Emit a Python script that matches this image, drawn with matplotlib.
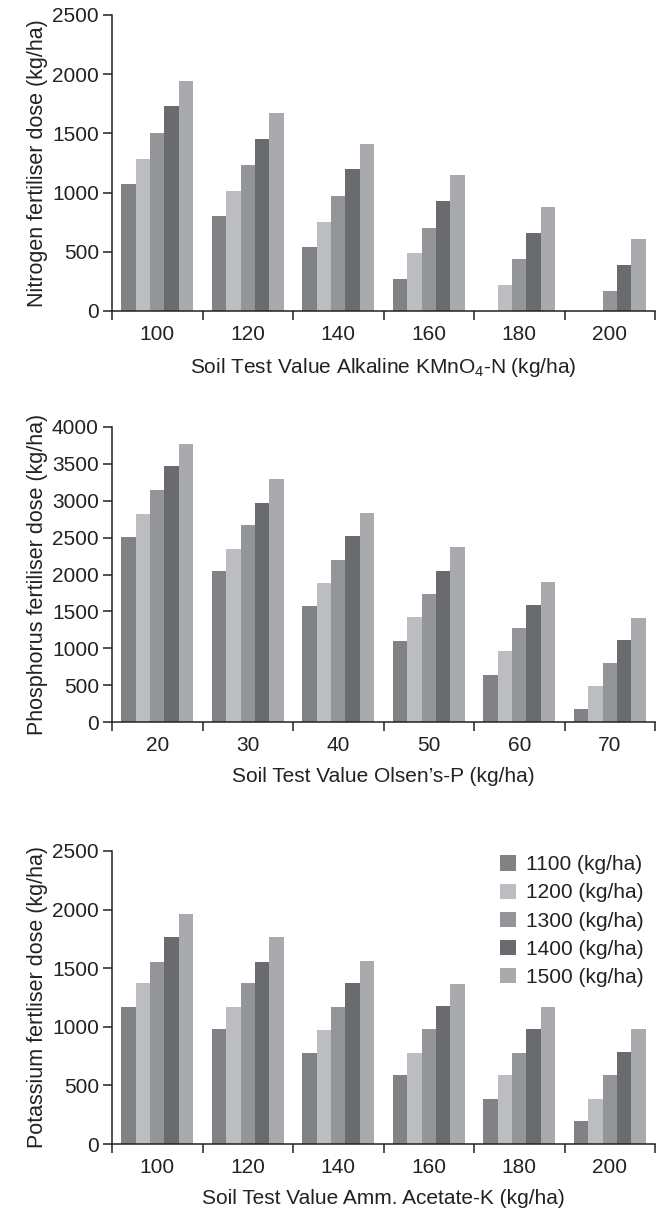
import matplotlib
matplotlib.use("Agg")
import matplotlib.pyplot as plt
import numpy as np

plt.rcParams['font.family'] = ['Liberation Sans', 'DejaVu Sans']
plt.rcParams['mathtext.fontset'] = 'custom'
plt.rcParams['mathtext.rm'] = 'Liberation Sans'
plt.rcParams['mathtext.it'] = 'Liberation Sans'

series_labels = ["1100 (kg/ha)", "1200 (kg/ha)", "1300 (kg/ha)", "1400 (kg/ha)", "1500 (kg/ha)"]
colors = ["#818286", "#bcbdc1", "#949599", "#6a6b6f", "#a9aaae"]

n_cats = ["100", "120", "140", "160", "180", "200"]
n_vals = [
    [1070, 800, 540, 270, 0, 0],
    [1280, 1010, 750, 490, 220, 0],
    [1500, 1230, 970, 700, 440, 170],
    [1730, 1450, 1200, 930, 660, 390],
    [1940, 1670, 1410, 1150, 880, 610],
]

p_cats = ["20", "30", "40", "50", "60", "70"]
p_vals = [
    [2510, 2050, 1575, 1100, 635, 170],
    [2825, 2350, 1890, 1425, 960, 485],
    [3150, 2675, 2200, 1740, 1275, 800],
    [3465, 2975, 2525, 2050, 1590, 1110],
    [3765, 3300, 2840, 2375, 1900, 1410],
]

k_cats = ["100", "120", "140", "160", "180", "200"]
k_vals = [
    [1165, 980, 775, 590, 385, 195],
    [1375, 1165, 970, 775, 590, 385],
    [1555, 1375, 1165, 980, 775, 590],
    [1765, 1555, 1375, 1175, 980, 785],
    [1960, 1765, 1560, 1365, 1165, 980],
]

W, H = 662, 1216
L, R = 112, 655

panels = [
    dict(cats=n_cats, vals=n_vals, ymax=2500, yticks=np.arange(0, 2501, 500),
         ylabel="Nitrogen fertiliser dose (kg/ha)",
         xlabel="Soil Test Value Alkaline KMnO$_4$-N (kg/ha)",
         top=15, bottom=311),
    dict(cats=p_cats, vals=p_vals, ymax=4000, yticks=np.arange(0, 4001, 500),
         ylabel="Phosphorus fertiliser dose (kg/ha)",
         xlabel="Soil Test Value Olsen\u2019s-P (kg/ha)",
         top=427, bottom=722),
    dict(cats=k_cats, vals=k_vals, ymax=2500, yticks=np.arange(0, 2501, 500),
         ylabel="Potassium fertliser dose (kg/ha)",
         xlabel="Soil Test Value Amm. Acetate-K (kg/ha)",
         top=851, bottom=1144),
]

fig = plt.figure(figsize=(W / 100, H / 100), dpi=100)
line_c = "#222222"
bw = 0.16
for pi, p in enumerate(panels):
    rect = [L / W, 1 - p["bottom"] / H, (R - L) / W, (p["bottom"] - p["top"]) / H]
    ax = fig.add_axes(rect)
    x = np.arange(len(p["cats"]))
    for i, (vals, c) in enumerate(zip(p["vals"], colors)):
        ax.bar(x + (i - 2) * bw, vals, width=bw, color=c, label=series_labels[i], linewidth=0)
    ax.set_xlim(-0.5, len(p["cats"]) - 0.5)
    ax.set_ylim(0, p["ymax"])
    ax.set_yticks(p["yticks"])
    ax.set_xticks(x)
    ax.set_xticklabels(p["cats"])
    ax.set_xticks(np.arange(-0.5, len(p["cats"]), 1.0), minor=True)
    ax.tick_params(axis='x', which='major', length=0, pad=10, labelsize=15, colors=line_c)
    ax.tick_params(axis='x', which='minor', length=6.5, width=1.1, direction='out', color=line_c)
    ax.tick_params(axis='y', length=6.5, width=1.1, direction='out', pad=3, labelsize=15, colors=line_c)
    for s in ['top', 'right']:
        ax.spines[s].set_visible(False)
    for s in ['left', 'bottom']:
        ax.spines[s].set_linewidth(1.1)
        ax.spines[s].set_color(line_c)
    ax.set_ylabel(p["ylabel"], fontsize=15.5, color=line_c, labelpad=3)
    ax.set_xlabel(p["xlabel"], fontsize=15, color=line_c, labelpad=9)
    if pi == 2:
        ax.legend(loc='upper left', bbox_to_anchor=(492 / W, 1 - 847 / H),
                  bbox_transform=fig.transFigure, frameon=False, fontsize=15,
                  handlelength=0.75, handleheight=0.75, handletextpad=0.5,
                  labelspacing=0.44, borderaxespad=0, labelcolor=line_c)

fig.savefig("out.png", dpi=100)
